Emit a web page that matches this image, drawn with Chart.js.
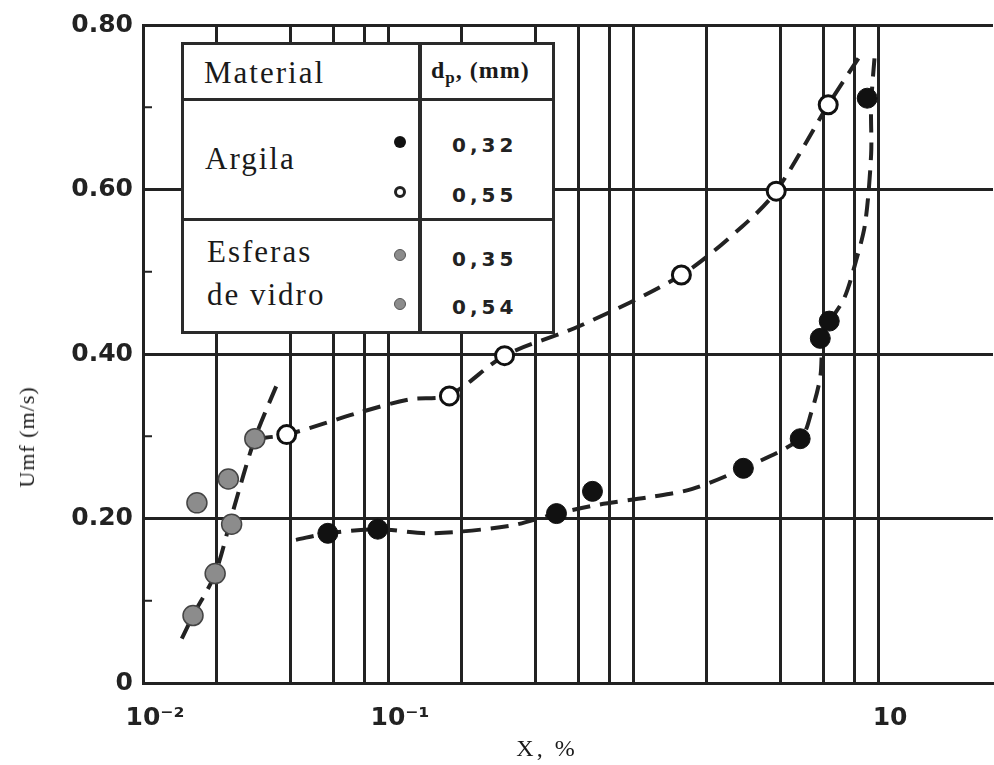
<!DOCTYPE html>
<html>
<head>
<meta charset="utf-8">
<script src="https://cdn.jsdelivr.net/npm/chart.js@4.4.1/dist/chart.umd.min.js"></script>
<style>
    body { margin: 0; background: #fff; }
    #wrap { position: relative; width: 994px; height: 765px; overflow: hidden; }
    #chart { position: absolute; left: 0; top: 0; }
    .abs { position: absolute; }
    .box { left: 181px; top: 42px; width: 374px; height: 292px; border: 3px solid #2a2a2a; box-sizing: border-box; background: #fff; }
    .rule { background: #2a2a2a; }
    .serif { font-family: 'Liberation Serif', 'DejaVu Serif', serif; color: #1a1a1a; white-space: nowrap; line-height: 1; transform: translateY(-50%); }
    .mat { font-size: 31px; letter-spacing: 2px; }
    .val { font-family: 'DejaVu Sans', sans-serif; font-weight: bold; font-size: 20px; letter-spacing: 4px; color: #222; line-height: 1; transform: translateY(-50%); }
    .dot { width: 12px; height: 12px; border-radius: 50%; box-sizing: border-box; transform: translate(-50%, -50%); }
    .ytitle { left: 27px; top: 437px; font-size: 22px; letter-spacing: 1px; transform: translate(-50%, -50%) rotate(-90deg); }
    .xtitle { left: 547px; top: 748px; font-size: 24px; letter-spacing: 3px; transform: translate(-50%, -50%); }
</style>
</head>
<body>
<div id="wrap">
    <!-- canvas is a bit wider than the page so the plot runs off the right edge -->
    <canvas id="chart" width="1005" height="765"></canvas>

    <!-- material / particle size table -->
    <div class="abs box"></div>
    <div class="abs rule" style="left:181px; top:98px; width:374px; height:3px;"></div>
    <div class="abs rule" style="left:181px; top:218px; width:374px; height:3px;"></div>
    <div class="abs rule" style="left:418px; top:42px; width:4px; height:292px;"></div>

    <div class="abs serif mat" style="left:204px; top:72px;">Material</div>
    <div class="abs serif" style="left:431px; top:72px; font-size:24px; font-weight:bold; letter-spacing:1px;">d<sub style="font-size:17px;">p</sub>, (mm)</div>

    <div class="abs serif mat" style="left:205px; top:158px;">Argila</div>
    <div class="abs serif mat" style="left:207px; top:251px;">Esferas</div>
    <div class="abs serif mat" style="left:207px; top:294px;">de vidro</div>

    <div class="abs dot" style="left:400px; top:142px; background:#111;"></div>
    <div class="abs dot" style="left:400px; top:192px; background:#fff; border:3px solid #222;"></div>
    <div class="abs dot" style="left:400px; top:255px; background:#8c8c8c; border:1px solid #555;"></div>
    <div class="abs dot" style="left:400px; top:304px; background:#8c8c8c; border:1px solid #555;"></div>

    <div class="abs val" style="left:452px; top:145px;">0,32</div>
    <div class="abs val" style="left:452px; top:195px;">0,55</div>
    <div class="abs val" style="left:452px; top:259px;">0,35</div>
    <div class="abs val" style="left:452px; top:307px;">0,54</div>

    <div class="abs serif ytitle">Umf (m/s)</div>
    <div class="abs serif xtitle">X, %</div>
</div>

<script>
// axis ticks
const xTickValues = [0.01, 0.02, 0.04, 0.06, 0.08, 0.1, 0.2, 0.4, 0.6, 0.8, 1, 2, 4, 6, 8, 10];
const xTickLabels = ['10⁻²', '', '', '', '', '10⁻¹', '', '', '', '', '', '', '', '', '', '10'];
const yTickValues = [0, 0.2, 0.4, 0.6, 0.8];
const yTickLabels = ['0', '0.20', '0.40', '0.60', '0.80'];
const yMinorTicks = [0.1, 0.3, 0.5, 0.7];

// Argila, dp = 0,32 mm (filled black)
const argila032X = [0.0568, 0.0908, 0.487, 0.683, 2.82, 4.81, 5.81, 6.32, 9.03];
const argila032Y = [0.182, 0.187, 0.206, 0.233, 0.261, 0.297, 0.419, 0.440, 0.711];

// Argila, dp = 0,55 mm (open)
const argila055X = [0.0386, 0.178, 0.299, 1.575, 3.84, 6.26];
const argila055Y = [0.302, 0.349, 0.398, 0.496, 0.598, 0.703];

// Esferas de vidro, 0,35 and 0,54 mm (grey)
const vidro035X = [0.0160, 0.0197, 0.0230];
const vidro035Y = [0.082, 0.133, 0.193];
const vidro054X = [0.0166, 0.0223, 0.0286];
const vidro054Y = [0.219, 0.248, 0.297];

// hand-drawn guide curves (dashed)
const curveVidroX = [0.0144, 0.0160, 0.0197, 0.0233, 0.0286, 0.0358];
const curveVidroY = [0.054, 0.082, 0.133, 0.209, 0.297, 0.368];
const curve055X = [0.0286, 0.0386, 0.0767, 0.123, 0.178, 0.299, 0.605, 1.575, 2.79, 3.84, 6.26, 8.38];
const curve055Y = [0.297, 0.302, 0.329, 0.345, 0.350, 0.398, 0.434, 0.496, 0.555, 0.598, 0.703, 0.761];
const curve032X = [0.0421, 0.0568, 0.0908, 0.148, 0.313, 0.487, 0.729, 1.167, 1.747, 2.82, 4.81, 5.34, 5.81, 6.03, 7.28, 8.14, 8.86, 9.37, 9.37, 9.73];
const curve032Y = [0.174, 0.182, 0.187, 0.182, 0.191, 0.206, 0.217, 0.226, 0.236, 0.261, 0.297, 0.329, 0.372, 0.426, 0.468, 0.514, 0.559, 0.643, 0.703, 0.770];

const ink = '#222';

function pts(xs, ys) {
    return xs.map((x, i) => ({ x: x, y: ys[i] }));
}

function curve(xs, ys) {
    return {
        data: pts(xs, ys),
        showLine: true,
        borderColor: ink,
        borderWidth: 4,
        borderDash: [18, 10],
        tension: 0.3,
        pointRadius: 0,
        order: 2
    };
}

function marks(xs, ys, fill, edge, edgeWidth, r) {
    return {
        data: pts(xs, ys),
        showLine: false,
        pointRadius: r,
        pointBackgroundColor: fill,
        pointBorderColor: edge,
        pointBorderWidth: edgeWidth,
        order: 1
    };
}

// short inward marks on the left axis at the odd tenths
const minorTicks = {
    id: 'minorTicks',
    afterDatasetsDraw(chart) {
        const ctx = chart.ctx;
        const y = chart.scales.y;
        const left = chart.chartArea.left;
        ctx.save();
        ctx.strokeStyle = ink;
        ctx.lineWidth = 2;
        yMinorTicks.forEach(v => {
            const py = y.getPixelForValue(v);
            ctx.beginPath();
            ctx.moveTo(left, py);
            ctx.lineTo(left + 9, py);
            ctx.stroke();
        });
        ctx.restore();
    }
};

new Chart(document.getElementById('chart'), {
    type: 'scatter',
    data: {
        datasets: [
            curve(curveVidroX, curveVidroY),
            curve(curve055X, curve055Y),
            curve(curve032X, curve032Y),
            marks(vidro035X, vidro035Y, '#8c8c8c', '#444', 1.5, 10),
            marks(vidro054X, vidro054Y, '#8c8c8c', '#444', 1.5, 10),
            marks(argila055X, argila055Y, '#fff', '#111', 3, 9),
            marks(argila032X, argila032Y, '#111', '#111', 1, 10)
        ]
    },
    options: {
        responsive: false,
        animation: false,
        layout: { padding: { top: 20, right: 0, left: 0, bottom: 0 } },
        plugins: {
            legend: { display: false },
            tooltip: { enabled: false }
        },
        scales: {
            x: {
                type: 'logarithmic',
                min: 0.01,
                max: 29.45,
                afterBuildTicks: scale => {
                    scale.ticks = xTickValues.map(v => ({ value: v }));
                },
                afterFit: scale => { scale.height = 82; },
                grid: { color: ink, lineWidth: 3, drawTicks: false },
                border: { color: ink, width: 3 },
                ticks: {
                    autoSkip: false,
                    maxRotation: 0,
                    padding: 20,
                    labelOffset: 12,
                    color: ink,
                    font: { family: 'DejaVu Sans', weight: 'bold', size: 25 },
                    callback: (v, i) => xTickLabels[i]
                }
            },
            y: {
                min: 0,
                max: 0.8,
                afterBuildTicks: scale => {
                    scale.ticks = yTickValues.map(v => ({ value: v }));
                },
                afterFit: scale => { scale.width = 143; },
                grid: { color: ink, lineWidth: 3, drawTicks: false },
                border: { color: ink, width: 3 },
                ticks: {
                    padding: 10,
                    color: ink,
                    font: { family: 'DejaVu Sans', weight: 'bold', size: 25 },
                    callback: (v, i) => yTickLabels[i]
                }
            }
        }
    },
    plugins: [minorTicks]
});
</script>
</body>
</html>
